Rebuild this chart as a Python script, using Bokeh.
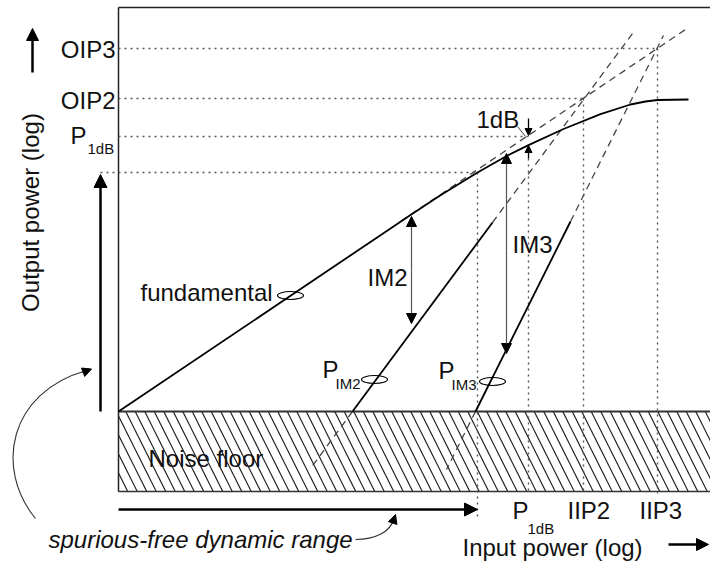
import numpy as np
from bokeh.plotting import figure
from bokeh.models import Range1d, Arrow, NormalHead
from bokeh.core.properties import value
from bokeh.embed import file_html
from bokeh.resources import INLINE

# ---- schematic values (input power -> x, output power -> y, in drawing units) ----
# fundamental output (with compression)
fund_x = [118, 380, 410, 440, 477, 507, 528, 563, 600, 630, 645, 657, 688]
fund_y = [411, 234.7, 214.5, 194.8, 172, 155, 144.6, 128.5, 113.6, 104, 101, 99.5, 99]
# linear extrapolation of the fundamental
fund_ext_x = [400, 685]
fund_ext_y = [221, 29]
# second order product: solid part, extrapolation above, and below noise floor
im2_x = [352, 492]; im2_y = [411, 222]
im2_ext_x = [492, 632]; im2_ext_y = [222, 33]
im2_low_x = [352, 310]; im2_low_y = [411, 468]
# third order product
im3_x = [475, 570]; im3_y = [411, 221]
im3_ext_x = [570, 663]; im3_ext_y = [221, 35]
im3_low_x = [475, 446]; im3_low_y = [411, 469]

# key levels
level_names = ["OIP3", "OIP2", "P1dB", "SFDR"]
out_levels = [48, 98, 136, 172]      # output level (y)
in_levels = [657, 583, 528, 477]     # input level (x)

# noise floor and frame
noise_top, noise_bot = 411, 491
frame_left, frame_top, frame_right = 118, 7, 712

# marker ellipses on curves
ell_x = [290, 374, 492]
ell_y = [295, 379, 381]

FONT = value("Liberation Sans")

p = figure(width=710, height=561, x_range=Range1d(0, 710), y_range=Range1d(561, 0),
           x_axis_type=None, y_axis_type=None, toolbar_location=None,
           output_backend="svg", min_border=0, outline_line_color=None,
           background_fill_color="white", border_fill_color="white")

# noise floor box with hatch
p.quad(left=[frame_left], right=[frame_right], top=[noise_top], bottom=[noise_bot],
       fill_color="white", line_color=None,
       hatch_pattern="\\", hatch_scale=19, hatch_weight=1.2, hatch_color="#222222")
p.line([frame_left, frame_right], [noise_top, noise_top], line_color="#333333", line_width=2)
p.line([frame_left, frame_right], [noise_bot, noise_bot], line_color="#333333", line_width=1.5)

# frame
p.line([frame_left, frame_left], [frame_top, noise_bot], line_color="#222222", line_width=1.5)
p.line([frame_left, frame_right], [frame_top, frame_top], line_color="#222222", line_width=1.5)

# dotted guide lines
dot = dict(line_color="#555555", line_width=1.4, line_dash="2 4")
starts = [frame_left, frame_left, frame_left, 100]
for yv, xv, xs in zip(out_levels, in_levels, starts):
    p.line([xs, xv], [yv, yv], **dot)
v_top = [48, 98, 158, 172]
v_bot = [493, 493, 493, 518]
for xv, yt, yb in zip(in_levels, v_top, v_bot):
    p.line([xv, xv], [yt, yb], **dot)

# dashed extrapolations
dash = dict(line_color="#444444", line_width=1.3, line_dash="7 5")
p.line(fund_ext_x, fund_ext_y, **dash)
p.line(im2_ext_x, im2_ext_y, **dash)
p.line(im3_ext_x, im3_ext_y, **dash)
p.line(im2_low_x, im2_low_y, **dash)
p.line(im3_low_x, im3_low_y, **dash)

# solid curves
p.line(fund_x, fund_y, line_color="black", line_width=1.8)
p.line(im2_x, im2_y, line_color="black", line_width=1.8)
p.line(im3_x, im3_y, line_color="black", line_width=1.8)

# ellipses
p.ellipse(x=ell_x, y=ell_y, width=26, height=8, width_units="screen", height_units="screen",
          fill_color=None, line_color="black", line_width=1.1)


def arrow(x0, y0, x1, y1, size=10, lw=1.5, color="black"):
    head = NormalHead(size=size, fill_color="black", line_color="black", line_width=1)
    p.add_layout(Arrow(x_start=x0, y_start=y0, x_end=x1, y_end=y1, end=head,
                       line_color=color, line_width=lw))


# IM2 / IM3 distance arrows
arrow(411, 270, 411, 216, size=10, lw=1.2, color="#555555")
arrow(411, 270, 411, 323, size=10, lw=1.2, color="#555555")
arrow(506, 250, 506, 153, size=10, lw=1.2, color="#555555")
arrow(506, 250, 506, 353, size=10, lw=1.2, color="#555555")
# 1 dB arrows
arrow(528, 118, 528, 135, size=7, lw=1.3)
arrow(528, 158, 528, 145, size=7, lw=1.3)
p.line([517, 525], [126, 136], line_color="#444444", line_width=1)

# axis direction arrows
arrow(100, 411, 100, 174, size=13, lw=2.5)
arrow(118, 509, 477, 509, size=13, lw=2.5)
arrow(32, 72, 32, 28, size=12, lw=2.5)
arrow(668, 544, 708, 544, size=12, lw=2.5)

# curved pointer arrows
p.bezier(x0=[35], y0=[518], x1=[86], y1=[370], cx0=[-6], cy0=[468], cx1=[8], cy1=[392],
         line_color="#333333", line_width=1.1)
arrow(82, 372, 91, 368.5, size=9, lw=1.1)
p.bezier(x0=[355], y0=[539], x1=[393], y1=[519], cx0=[375], cy0=[539], cx1=[390], cy1=[531],
         line_color="#333333", line_width=1.1)
arrow(392, 523, 395, 514, size=9, lw=1.1)

# texts (vertical positions are text centres)
big = dict(text_font=FONT, text_font_size="24px", text_color="#111111",
           text_baseline="middle")
small = dict(text_font=FONT, text_font_size="15px", text_color="#111111",
             text_baseline="middle", text_align="left")

p.text(x=[115, 115], y=[48.7, 99.7], text=["OIP3", "OIP2"], text_align="right", **big)
p.text(x=[70, 322, 438, 512], y=[134.7, 368.7, 369.7, 509.7], text=["P", "P", "P", "P"],
       text_align="left", **big)
p.text(x=[87, 335, 451, 527], y=[147.8, 382.8, 383.8, 527.8],
       text=["1dB", "IM2", "IM3", "1dB"], **small)
p.text(x=[140, 367, 512, 476, 148, 567, 639, 462],
       y=[291.7, 276.7, 243.7, 118.7, 457.7, 509.7, 509.7, 546.7],
       text=["fundamental", "IM2", "IM3", "1dB", "Noise floor", "IIP2", "IIP3", "Input power (log)"],
       text_align="left", **big)
p.text(x=[48], y=[538.7], text=["spurious-free dynamic range"], text_align="left",
       text_font_style="italic", **big)
p.text(x=[29.7], y=[212], text=["Output power (log)"], angle=np.pi / 2, text_align="center", **big)

open("out.html", "w").write(file_html(p, INLINE))
